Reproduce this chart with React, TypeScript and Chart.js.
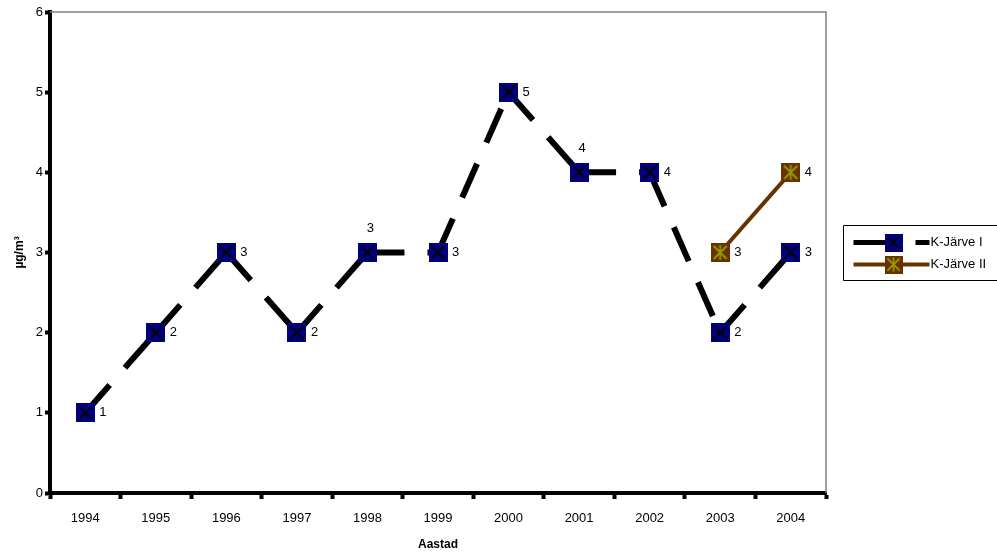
import React, { useEffect, useRef } from "react";
import { Chart, registerables } from "chart.js";

Chart.register(...registerables);

const years = ["1994", "1995", "1996", "1997", "1998", "1999", "2000", "2001", "2002", "2003", "2004"];
const kJarveI = [1, 2, 3, 2, 3, 3, 5, 4, 4, 2, 3];
const kJarveII = [null, null, null, null, null, null, null, null, null, 3, 4];
const yTicks = [0, 1, 2, 3, 4, 5, 6];
const labelsAbove = ["1998", "2001"];

function makeMarker(fill: string, stroke: string, star: boolean) {
  const c = document.createElement("canvas");
  const s = 19;
  c.width = s;
  c.height = s;
  const g = c.getContext("2d")!;
  g.fillStyle = fill;
  g.fillRect(0, 0, s, s);
  g.strokeStyle = stroke;
  g.lineWidth = 1.8;
  g.beginPath();
  g.moveTo(3, 3);
  g.lineTo(s - 3, s - 3);
  g.moveTo(s - 3, 3);
  g.lineTo(3, s - 3);
  if (star) {
    g.moveTo(s / 2, 2);
    g.lineTo(s / 2, s - 2);
  }
  g.stroke();
  return c;
}

export default function App() {
  const ref = useRef<HTMLCanvasElement>(null);
  useEffect(() => {
    const m1 = makeMarker("#000080", "#000000", false);
    const m2 = makeMarker("#663300", "#999900", true);
    const font = "'Liberation Sans', Arial, sans-serif";

    const extras = {
      id: "extras",
      afterDatasetsDraw(chart: any) {
        const ctx = chart.ctx;
        const a = chart.chartArea;
        ctx.save();
        ctx.strokeStyle = "#808080";
        ctx.lineWidth = 1.5;
        ctx.beginPath();
        ctx.moveTo(a.left, a.top);
        ctx.lineTo(a.right, a.top);
        ctx.lineTo(a.right, a.bottom);
        ctx.stroke();
        ctx.fillStyle = "#000";
        ctx.font = `13px ${font}`;
        ctx.textBaseline = "middle";
        chart.data.datasets.forEach((ds: any, di: number) => {
          const meta = chart.getDatasetMeta(di);
          meta.data.forEach((pt: any, i: number) => {
            const v = ds.data[i];
            if (v == null) return;
            if (di === 0 && labelsAbove.includes(years[i])) {
              ctx.textAlign = "center";
              ctx.fillText(String(v), pt.x + 3, pt.y - 24);
            } else {
              ctx.textAlign = "left";
              ctx.fillText(String(v), pt.x + 14, pt.y);
            }
          });
        });
        const lx = 843.5;
        const ly = 225.5;
        ctx.strokeStyle = "#000";
        ctx.lineWidth = 1;
        ctx.beginPath();
        ctx.moveTo(1000, ly);
        ctx.lineTo(lx, ly);
        ctx.lineTo(lx, ly + 55);
        ctx.lineTo(1000, ly + 55);
        ctx.stroke();
        const r1 = ly + 17;
        const r2 = ly + 39;
        ctx.lineWidth = 5;
        ctx.strokeStyle = "#000";
        ctx.beginPath();
        ctx.moveTo(lx + 10, r1);
        ctx.lineTo(lx + 45, r1);
        ctx.moveTo(lx + 72, r1);
        ctx.lineTo(lx + 86, r1);
        ctx.stroke();
        ctx.drawImage(m1, lx + 41, r1 - 9, 18, 18);
        ctx.lineWidth = 4;
        ctx.strokeStyle = "#663300";
        ctx.beginPath();
        ctx.moveTo(lx + 10, r2);
        ctx.lineTo(lx + 86, r2);
        ctx.stroke();
        ctx.drawImage(m2, lx + 41, r2 - 9, 18, 18);
        ctx.fillStyle = "#000";
        ctx.textAlign = "left";
        ctx.font = `13px ${font}`;
        ctx.fillText("K-Järve I", lx + 87, r1);
        ctx.fillText("K-Järve II", lx + 87, r2);
        ctx.restore();
      },
    };

    const chart = new Chart(ref.current!, {
      type: "line",
      data: {
        labels: years,
        datasets: [
          {
            label: "K-Järve I",
            data: kJarveI,
            borderColor: "#000000",
            borderWidth: 6,
            borderDash: [37, 23],
            borderCapStyle: "butt",
            pointStyle: m1 as any,
            pointRadius: 10,
            tension: 0,
            segment: {
              borderDashOffset: (c: any) => c.p0DataIndex * 0.0001,
            },
          },
          {
            label: "K-Järve II",
            data: kJarveII as any,
            borderColor: "#663300",
            borderWidth: 4,
            pointStyle: m2 as any,
            pointRadius: 10,
            tension: 0,
            spanGaps: false,
          },
        ],
      },
      plugins: [extras],
      options: {
        animation: false,
        responsive: false,
        maintainAspectRatio: false,
        layout: { autoPadding: false, padding: { top: 12, right: 171, left: 0, bottom: 0 } },
        plugins: { legend: { display: false }, tooltip: { enabled: false } },
        scales: {
          x: {
            offset: true,
            grid: { display: true, drawOnChartArea: false, offset: true, tickLength: 6, tickWidth: 4, color: "#000" },
            border: { display: true, width: 4, color: "#000" },
            ticks: { color: "#000", font: { size: 13, family: font }, padding: 12, maxRotation: 0 },
            title: { display: true, text: "Aastad", color: "#000", font: { size: 12, weight: "bold", family: font }, padding: { top: 4, bottom: 2 } },
            afterFit(s: any) {
              s.height = 61;
              s.paddingLeft = 0;
              s.paddingRight = 0;
            },
          },
          y: {
            min: 0,
            max: 6,
            afterBuildTicks(s: any) { s.ticks = yTicks.map((v) => ({ value: v })); },
            grid: { display: true, drawOnChartArea: false, tickLength: 5, tickWidth: 4, color: "#000" },
            border: { display: true, width: 4, color: "#000" },
            ticks: { color: "#000", font: { size: 13, family: font }, padding: 2 },
            title: { display: true, text: "µg/m³", color: "#000", font: { size: 12, weight: "bold", family: font }, padding: { top: 12, bottom: 4 } },
            afterFit(s: any) {
              s.width = 50;
              s.paddingTop = 0;
              s.paddingBottom = 0;
            },
          },
        },
      },
    });
    return () => chart.destroy();
  }, []);
  return (
    <div style={{ position: "absolute", left: 0, top: 0, width: 997, height: 554 }}>
      <canvas ref={ref} width={997} height={554} style={{ width: 997, height: 554, display: "block" }} />
    </div>
  );
}
